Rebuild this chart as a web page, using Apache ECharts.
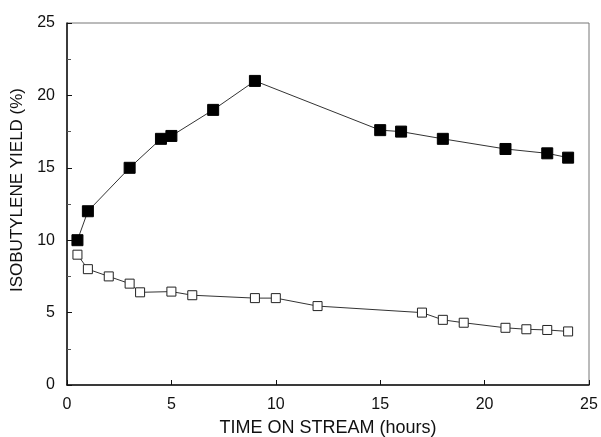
<!DOCTYPE html>
<html>
<head>
<meta charset="utf-8">
<script src="https://cdn.jsdelivr.net/npm/echarts@6/dist/echarts.min.js"></script>
<style>html,body{margin:0;padding:0;background:#fff;}#c{width:601px;height:437px;}</style>
</head>
<body>
<div id="c"></div>
<script>
const filledX = [0.5, 1, 3, 4.5, 5, 7, 9, 15, 16, 18, 21, 23, 24];
const filledY = [10, 12, 15, 17, 17.2, 19, 21, 17.6, 17.5, 17, 16.3, 16, 15.7];
const openX = [0.5, 1, 2, 3, 3.5, 5, 6, 9, 10, 12, 17, 18, 19, 21, 22, 23, 24];
const openY = [9, 8, 7.5, 7, 6.4, 6.45, 6.2, 6, 6, 5.45, 5, 4.5, 4.3, 3.95, 3.85, 3.8, 3.7];
const xTitle = 'TIME ON STREAM (hours)';
const yTitle = 'ISOBUTYLENE YIELD (%)';

const zip = (xs, ys) => xs.map((x, i) => [x, ys[i]]);
const font = 'Liberation Sans, Arial, sans-serif';
const chart = echarts.init(document.getElementById('c'), null, {renderer: 'canvas'});
chart.setOption({
  animation: false,
  backgroundColor: '#fff',
  grid: {left: 67, right: 12, top: 23, bottom: 52, show: true, borderColor: '#777', borderWidth: 1,
         containLabel: false, outerBoundsMode: 'none'},
  xAxis: {
    type: 'value', min: 0, max: 25, interval: 5,
    name: xTitle, nameLocation: 'middle', nameGap: 34,
    nameTextStyle: {fontFamily: font, fontSize: 18, color: '#111'},
    axisLine: {show: true, lineStyle: {color: '#111', width: 1.5}},
    axisTick: {show: true, inside: true, length: 5, lineStyle: {color: '#111'}},
    axisLabel: {fontFamily: font, fontSize: 16, color: '#111', margin: 12},
    splitLine: {show: false}
  },
  yAxis: {
    type: 'value', min: 0, max: 25, interval: 5,
    name: yTitle, nameLocation: 'middle', nameGap: 39, nameRotate: 90,
    nameTextStyle: {fontFamily: font, fontSize: 17, color: '#111', padding: [0, 0, 0, 28]},
    axisLine: {show: true, lineStyle: {color: '#111', width: 1.5}},
    axisTick: {show: true, inside: true, length: 5, lineStyle: {color: '#111'}},
    minorTick: {show: true, splitNumber: 2, length: 4, lineStyle: {color: '#555'}},
    axisLabel: {fontFamily: font, fontSize: 16, color: '#111', margin: 12},
    splitLine: {show: false}
  },
  series: [
    {
      type: 'line', data: zip(filledX, filledY),
      symbol: 'rect', symbolSize: 11,
      itemStyle: {color: '#000', borderColor: '#000'},
      lineStyle: {color: '#333', width: 1}
    },
    {
      type: 'line', data: zip(openX, openY),
      symbol: 'rect', symbolSize: 9,
      itemStyle: {color: '#fff', borderColor: '#222', borderWidth: 1},
      lineStyle: {color: '#333', width: 1}
    }
  ]
});
</script>
</body>
</html>
